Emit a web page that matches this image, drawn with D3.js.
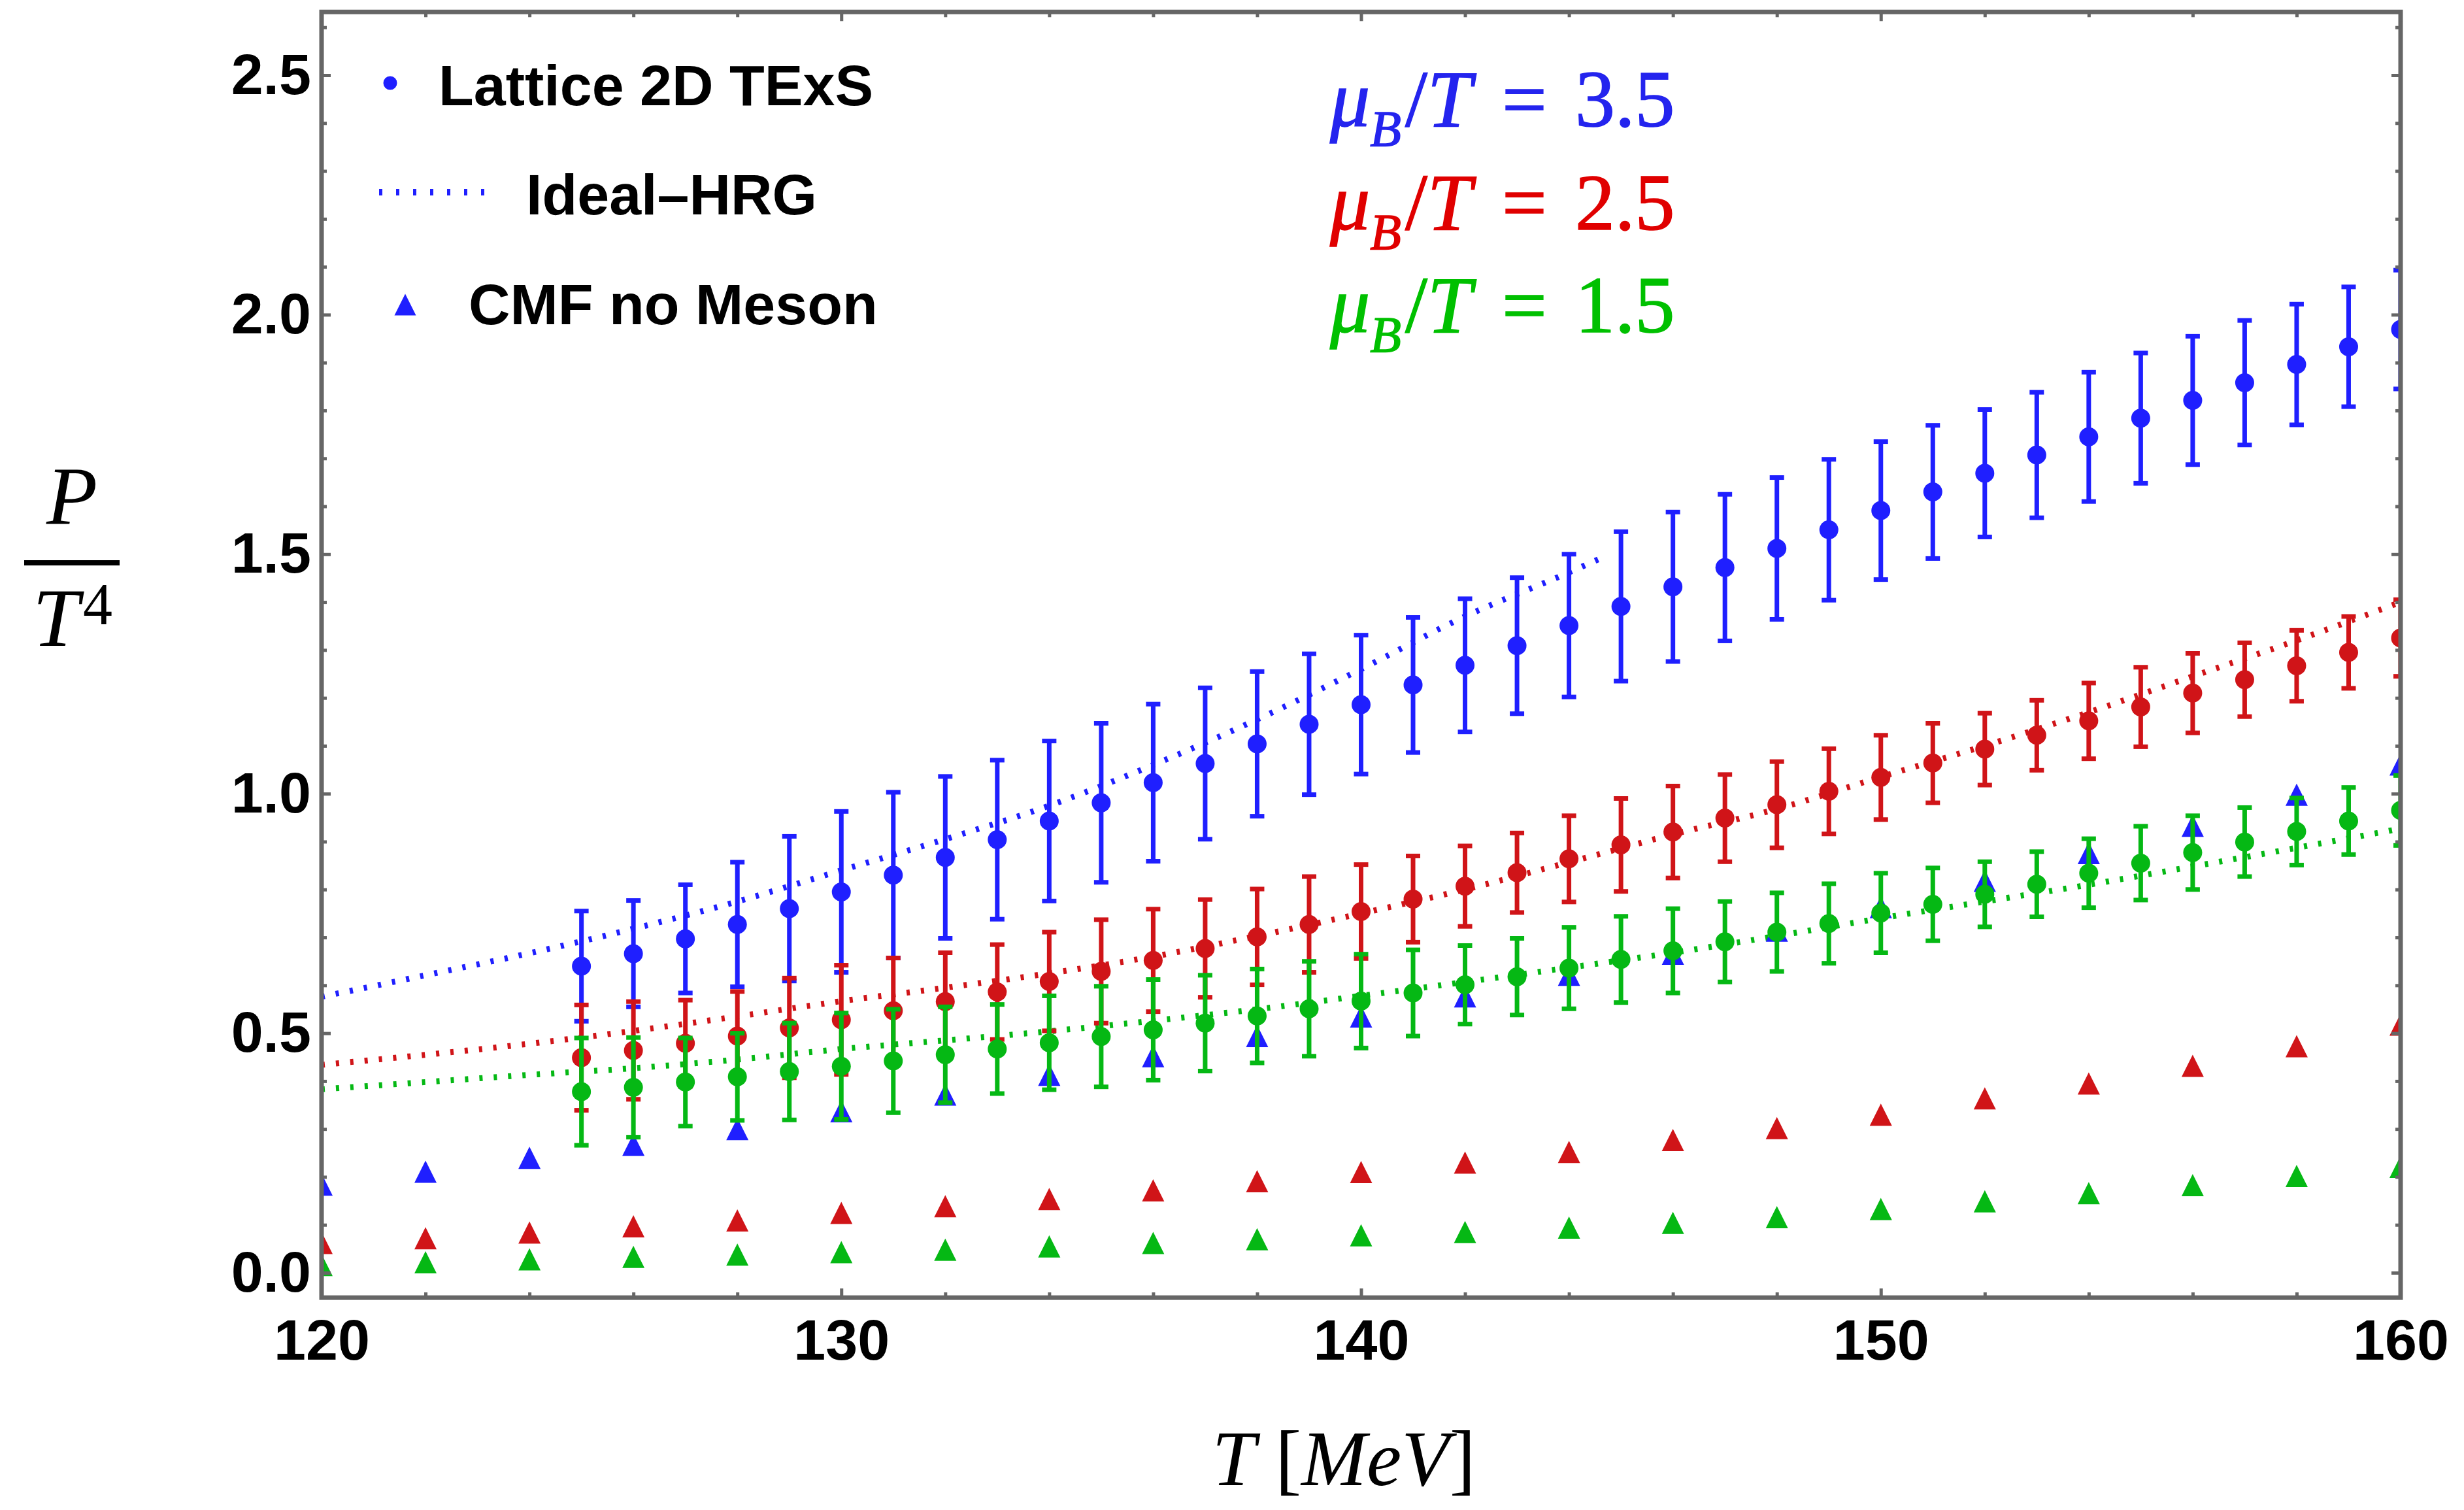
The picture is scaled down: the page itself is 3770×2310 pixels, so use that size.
<!DOCTYPE html>
<html>
<head>
<meta charset="utf-8">
<script src="https://cdn.jsdelivr.net/npm/d3@7"></script>
<style>
  html, body { margin: 0; padding: 0; background: #fff; }
  svg { display: block; }
</style>
</head>
<body>
<div id="chart"></div>
<script>
// Lattice 2D TExS points (T in MeV), value and error, per mu_B/T
const latticeT = [125, 126, 127, 128, 129, 130, 131, 132, 133, 134, 135, 136, 137, 138, 139, 140, 141, 142,
  143, 144, 145, 146, 147, 148, 149, 150, 151, 152, 153, 154, 155, 156, 157, 158, 159, 160];

const latticeBlue = [0.640, 0.666, 0.697, 0.727, 0.760, 0.795, 0.830, 0.867, 0.904, 0.943, 0.981, 1.023,
  1.063, 1.104, 1.145, 1.186, 1.227, 1.268, 1.309, 1.351, 1.391, 1.432, 1.472, 1.512, 1.551, 1.591,
  1.630, 1.669, 1.707, 1.745, 1.784, 1.821, 1.858, 1.896, 1.933, 1.969];
const latticeBlueErr = [0.115, 0.111, 0.113, 0.130, 0.151, 0.168, 0.173, 0.169, 0.166, 0.167, 0.166, 0.164,
  0.158, 0.151, 0.147, 0.145, 0.141, 0.139, 0.142, 0.149, 0.156, 0.156, 0.153, 0.148, 0.147, 0.144,
  0.139, 0.133, 0.131, 0.135, 0.136, 0.134, 0.130, 0.126, 0.125, 0.124];

const latticeRed = [0.449, 0.464, 0.479, 0.494, 0.511, 0.528, 0.547, 0.566, 0.586, 0.608, 0.629, 0.652,
  0.677, 0.701, 0.727, 0.754, 0.780, 0.807, 0.835, 0.864, 0.893, 0.920, 0.949, 0.977, 1.005, 1.034,
  1.064, 1.093, 1.122, 1.152, 1.181, 1.210, 1.238, 1.267, 1.295, 1.325];
const latticeRedErr = [0.110, 0.102, 0.090, 0.093, 0.104, 0.114, 0.110, 0.102, 0.099, 0.103, 0.108, 0.107,
  0.102, 0.100, 0.100, 0.098, 0.090, 0.084, 0.083, 0.090, 0.097, 0.096, 0.091, 0.090, 0.089, 0.088,
  0.083, 0.075, 0.073, 0.079, 0.083, 0.083, 0.077, 0.074, 0.075, 0.080];

const latticeGreen = [0.378, 0.387, 0.398, 0.409, 0.420, 0.431, 0.442, 0.455, 0.467, 0.480, 0.493, 0.507,
  0.521, 0.536, 0.551, 0.567, 0.584, 0.601, 0.618, 0.636, 0.654, 0.672, 0.691, 0.711, 0.729, 0.751,
  0.769, 0.790, 0.811, 0.834, 0.855, 0.877, 0.899, 0.921, 0.943, 0.965];
const latticeGreenErr = [0.112, 0.104, 0.092, 0.091, 0.101, 0.111, 0.108, 0.100, 0.093, 0.098, 0.105, 0.105,
  0.100, 0.098, 0.099, 0.098, 0.090, 0.082, 0.080, 0.085, 0.090, 0.088, 0.084, 0.082, 0.083, 0.083,
  0.076, 0.068, 0.068, 0.072, 0.077, 0.077, 0.072, 0.070, 0.070, 0.073];

// CMF no Meson (triangles)
const cmfT = [120, 122, 124, 126, 128, 130, 132, 134, 136, 138, 140, 142, 144, 146, 148, 150, 152, 154, 156, 158, 160];
const cmfBlue = [0.184, 0.211, 0.240, 0.267, 0.300, 0.337, 0.372, 0.413, 0.452, 0.494, 0.535, 0.577, 0.622,
  0.666, 0.714, 0.763, 0.818, 0.876, 0.933, 0.998, 1.061];
const cmfRed = [0.062, 0.072, 0.084, 0.097, 0.109, 0.125, 0.139, 0.154, 0.172, 0.191, 0.210, 0.230, 0.252,
  0.277, 0.302, 0.330, 0.364, 0.395, 0.432, 0.473, 0.518];
const cmfGreen = [0.016, 0.022, 0.028, 0.033, 0.038, 0.043, 0.048, 0.055, 0.062, 0.070, 0.078, 0.085, 0.094,
  0.104, 0.116, 0.133, 0.149, 0.166, 0.183, 0.202, 0.221];

// Ideal-HRG (dotted curves)
const hrgBlueT = [120, 122, 124, 126, 128, 130, 132, 134, 136, 138, 140, 142, 144, 144.6];
const hrgBlue = [0.576, 0.621, 0.667, 0.718, 0.775, 0.840, 0.905, 0.975, 1.060, 1.155, 1.260, 1.370, 1.462, 1.491];
const hrgT = [120, 122, 124, 126, 128, 130, 132, 134, 136, 138, 140, 142, 144, 146, 148, 150, 152, 154, 156, 158, 160];
const hrgRed = [0.434, 0.455, 0.478, 0.505, 0.535, 0.567, 0.595, 0.625, 0.660, 0.703, 0.750, 0.800, 0.857,
  0.915, 0.968, 1.035, 1.100, 1.170, 1.245, 1.320, 1.400];
const hrgGreen = [0.383, 0.398, 0.413, 0.427, 0.445, 0.467, 0.485, 0.504, 0.526, 0.550, 0.578, 0.607, 0.637,
  0.668, 0.703, 0.740, 0.775, 0.810, 0.848, 0.887, 0.927];

// ticks and labels
const xMajorTicks = [120, 130, 140, 150, 160];
const xMinorTicks = [122, 124, 126, 128, 132, 134, 136, 138, 142, 144, 146, 148, 152, 154, 156, 158];
const yMajorTicks = [0, 0.5, 1.0, 1.5, 2.0, 2.5];
const yMinorTicks = [0.1, 0.2, 0.3, 0.4, 0.6, 0.7, 0.8, 0.9, 1.1, 1.2, 1.3, 1.4, 1.6, 1.7, 1.8, 1.9,
  2.1, 2.2, 2.3, 2.4, 2.6];
const legendLabels = ['Lattice 2D TExS', 'Ideal\u2013HRG', 'CMF no Meson'];
const muValues = ['3.5', '2.5', '1.5'];

const seriesColors = ['#1f1fff', '#d01418', '#05b814'];
const labelColors = ['#2424ee', '#e00000', '#00c000'];

const W = 3770, H = 2310;
const sansFont = "'Liberation Sans', Arial, Helvetica, sans-serif";
const serifFont = "'Liberation Serif', 'Times New Roman', Times, serif";

const svg = d3.select('#chart').append('svg')
  .attr('width', W)
  .attr('height', H);

const x = d3.scaleLinear().domain([120, 160]).range([492, 3673]);
const y = d3.scaleLinear().domain([0, 2.5]).range([1947, 115]);

const frame = { left: x(120), right: x(160), top: y(2.632), bottom: y(-0.052) };

svg.append('clipPath').attr('id', 'plot-clip')
  .append('rect')
  .attr('x', frame.left)
  .attr('y', frame.top)
  .attr('width', frame.right - frame.left)
  .attr('height', frame.bottom - frame.top);

const plot = svg.append('g').attr('clip-path', 'url(#plot-clip)');

// dotted HRG curves
const hrgLine = d3.line()
  .x(d => x(d[0]))
  .y(d => y(d[1]))
  .curve(d3.curveMonotoneX);

const hrgSeries = [
  { t: hrgBlueT, v: hrgBlue, color: seriesColors[0] },
  { t: hrgT, v: hrgRed, color: seriesColors[1] },
  { t: hrgT, v: hrgGreen, color: seriesColors[2] }
];

hrgSeries.forEach(s => {
  plot.append('path')
    .datum(s.t.map((t, i) => [t, s.v[i]]))
    .attr('d', hrgLine)
    .attr('fill', 'none')
    .attr('stroke', s.color)
    .attr('stroke-width', 9)
    .attr('stroke-dasharray', '5,17');
});

// triangles
const triPath = (w, h) => `M0,${-h / 2}L${w / 2},${h / 2}L${-w / 2},${h / 2}Z`;

[cmfBlue, cmfRed, cmfGreen].forEach((vals, k) => {
  plot.append('g').selectAll('path')
    .data(cmfT.map((t, i) => ({ t, v: vals[i] })))
    .join('path')
    .attr('d', triPath(34, 34))
    .attr('transform', d => `translate(${x(d.t)},${y(d.v)})`)
    .attr('fill', seriesColors[k]);
});

// lattice points with error bars
function drawLattice(vals, errs, color) {
  const data = latticeT.map((t, i) => ({ t, v: vals[i], e: errs[i] }));
  const g = plot.append('g');

  g.selectAll('line.bar')
    .data(data)
    .join('line')
    .attr('class', 'bar')
    .attr('x1', d => x(d.t))
    .attr('x2', d => x(d.t))
    .attr('y1', d => y(d.v - d.e))
    .attr('y2', d => y(d.v + d.e))
    .attr('stroke', color)
    .attr('stroke-width', 7);

  ['top', 'bottom'].forEach(side => {
    g.selectAll('line.cap-' + side)
      .data(data)
      .join('line')
      .attr('class', 'cap-' + side)
      .attr('x1', d => x(d.t) - 11)
      .attr('x2', d => x(d.t) + 11)
      .attr('y1', d => y(side === 'top' ? d.v + d.e : d.v - d.e))
      .attr('y2', d => y(side === 'top' ? d.v + d.e : d.v - d.e))
      .attr('stroke', color)
      .attr('stroke-width', 7);
  });

  g.selectAll('circle')
    .data(data)
    .join('circle')
    .attr('cx', d => x(d.t))
    .attr('cy', d => y(d.v))
    .attr('r', 14.5)
    .attr('fill', color);
}

drawLattice(latticeBlue, latticeBlueErr, seriesColors[0]);
drawLattice(latticeRed, latticeRedErr, seriesColors[1]);
drawLattice(latticeGreen, latticeGreenErr, seriesColors[2]);

// frame
svg.append('rect')
  .attr('x', frame.left)
  .attr('y', frame.top)
  .attr('width', frame.right - frame.left)
  .attr('height', frame.bottom - frame.top)
  .attr('fill', 'none')
  .attr('stroke', '#666')
  .attr('stroke-width', 7);

// axes: ticks point inward on all four sides
function styleAxis(g) {
  g.select('.domain').remove();
  g.selectAll('.tick line').attr('stroke', '#666').attr('stroke-width', 5);
  g.selectAll('.tick text')
    .attr('fill', '#000')
    .style('font-family', sansFont)
    .style('font-weight', 'bold')
    .style('font-size', '88px');
}

svg.append('g')
  .attr('transform', `translate(0,${frame.bottom})`)
  .call(d3.axisBottom(x).tickValues(xMajorTicks).tickSize(-14).tickPadding(32).tickFormat(d3.format('d')))
  .call(styleAxis);
svg.append('g')
  .attr('transform', `translate(0,${frame.bottom})`)
  .call(d3.axisBottom(x).tickValues(xMinorTicks).tickSize(-8).tickFormat(''))
  .call(styleAxis);
svg.append('g')
  .attr('transform', `translate(0,${frame.top})`)
  .call(d3.axisTop(x).tickValues(xMajorTicks).tickSize(-14).tickFormat(''))
  .call(styleAxis);
svg.append('g')
  .attr('transform', `translate(0,${frame.top})`)
  .call(d3.axisTop(x).tickValues(xMinorTicks).tickSize(-8).tickFormat(''))
  .call(styleAxis);

svg.append('g')
  .attr('transform', `translate(${frame.left},0)`)
  .call(d3.axisLeft(y).tickValues(yMajorTicks).tickSize(-14).tickPadding(16).tickFormat(d3.format('.1f')))
  .call(styleAxis);
svg.append('g')
  .attr('transform', `translate(${frame.left},0)`)
  .call(d3.axisLeft(y).tickValues(yMinorTicks).tickSize(-8).tickFormat(''))
  .call(styleAxis);
svg.append('g')
  .attr('transform', `translate(${frame.right},0)`)
  .call(d3.axisRight(y).tickValues(yMajorTicks).tickSize(-14).tickFormat(''))
  .call(styleAxis);
svg.append('g')
  .attr('transform', `translate(${frame.right},0)`)
  .call(d3.axisRight(y).tickValues(yMinorTicks).tickSize(-8).tickFormat(''))
  .call(styleAxis);

// legend
const legend = svg.append('g')
  .style('font-family', sansFont)
  .style('font-weight', 'bold')
  .style('font-size', '88px');

legend.append('circle').attr('cx', 597).attr('cy', 127).attr('r', 10.5).attr('fill', seriesColors[0]);
legend.append('text').attr('x', 671).attr('y', 161).text(legendLabels[0]);

legend.append('line')
  .attr('x1', 580).attr('x2', 746).attr('y1', 294).attr('y2', 294)
  .attr('stroke', seriesColors[0])
  .attr('stroke-width', 10)
  .attr('stroke-dasharray', '5,21');
legend.append('text').attr('x', 805).attr('y', 328).text(legendLabels[1]);

legend.append('path').attr('d', triPath(33, 33)).attr('transform', 'translate(620,466)').attr('fill', seriesColors[0]);
legend.append('text').attr('x', 717).attr('y', 496).text(legendLabels[2]);

// mu_B / T annotations
muValues.forEach((val, i) => {
  const t = svg.append('text')
    .attr('x', 2035)
    .attr('y', 193 + i * 157.5)
    .attr('fill', labelColors[i])
    .attr('stroke', labelColors[i])
    .attr('stroke-width', 1.5)
    .style('font-family', serifFont)
    .style('font-size', '122px');
  t.append('tspan').style('font-style', 'italic').text('\u03bc');
  t.append('tspan').style('font-style', 'italic').style('font-size', '78px').attr('dy', 30).text('B');
  t.append('tspan').attr('dy', -30).attr('dx', 6).text('/');
  t.append('tspan').style('font-style', 'italic').text('T');
  t.append('tspan').attr('x', 2298).text('=');
  t.append('tspan').attr('x', 2410).text(val);
});

// axis titles
const xTitle = svg.append('text')
  .attr('x', 2056)
  .attr('y', 2272)
  .attr('text-anchor', 'middle')
  .style('font-family', serifFont)
  .style('font-size', '120px');
xTitle.append('tspan').style('font-style', 'italic').text('T');
xTitle.append('tspan').text(' [');
xTitle.append('tspan').style('font-style', 'italic').text('MeV');
xTitle.append('tspan').text(']');

const yTitle = svg.append('g').style('font-family', serifFont);
yTitle.append('text')
  .attr('x', 110).attr('y', 802)
  .attr('text-anchor', 'middle')
  .style('font-style', 'italic')
  .style('font-size', '128px')
  .text('P');
yTitle.append('line')
  .attr('x1', 37).attr('x2', 183).attr('y1', 861).attr('y2', 861)
  .attr('stroke', '#000').attr('stroke-width', 8);
yTitle.append('text')
  .attr('x', 50).attr('y', 988)
  .style('font-style', 'italic')
  .style('font-size', '128px')
  .text('T');
yTitle.append('text')
  .attr('x', 127).attr('y', 955)
  .style('font-size', '90px')
  .text('4');
</script>
</body>
</html>
